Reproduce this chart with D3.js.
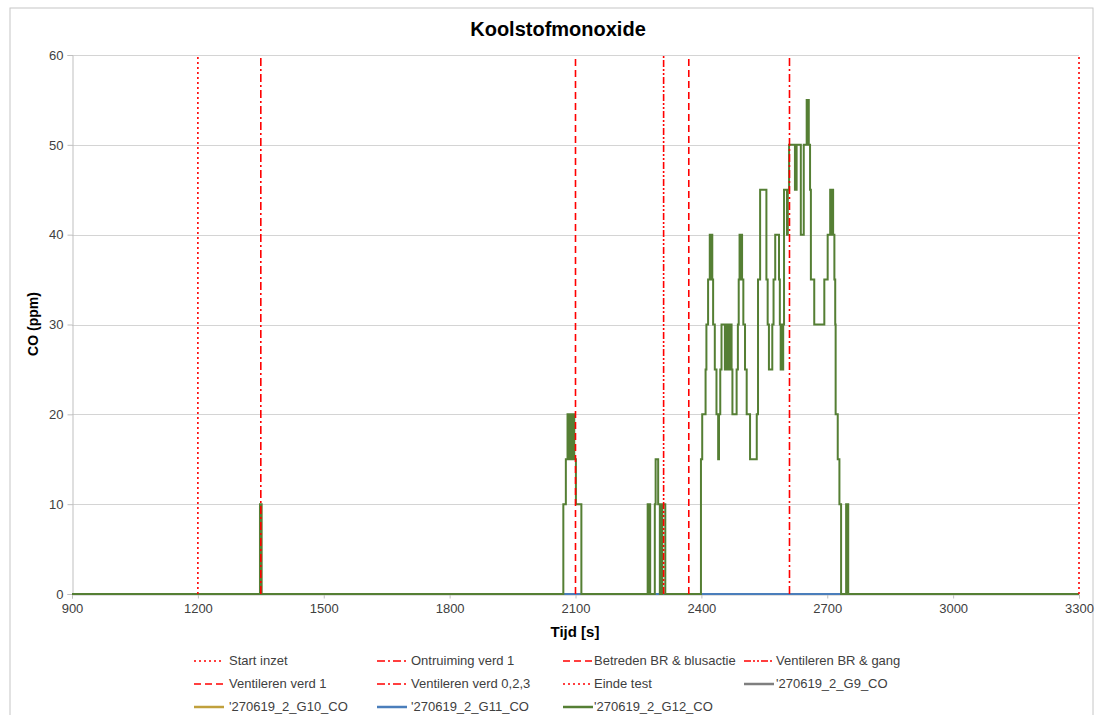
<!DOCTYPE html>
<html>
<head>
<meta charset="utf-8">
<script src="https://cdn.jsdelivr.net/npm/d3@7"></script>
<style>
  html, body { margin: 0; padding: 0; background: #fff; }
  svg { display: block; font-family: "Liberation Sans", Arial, sans-serif; }
</style>
</head>
<body>
<svg id="chart" width="1102" height="715"></svg>
<script>
// ---------- DATA ----------
const chartTitle = "Koolstofmonoxide";
const xTitle = "Tijd [s]";
const yTitle = "CO (ppm)";
const xTicks = [900, 1200, 1500, 1800, 2100, 2400, 2700, 3000, 3300];
const yTicks = [0, 10, 20, 30, 40, 50, 60];

// event markers (vertical red lines)
const markerNames = ["Start inzet", "Ontruiming verd 1", "Betreden BR & blusactie", "Ventileren BR & gang",
                     "Ventileren verd 1", "Ventileren verd 0,2,3", "Einde test"];
const markerTimes = [1200, 1350, 2100, 2310, 2370, 2610, 3300];
const markerKinds = ["dotted", "dashdot", "dashed", "dashdotdot", "dashed", "dashdot", "dotted"];

// sensor series
const seriesNames = ["'270619_2_G9_CO", "'270619_2_G10_CO", "'270619_2_G11_CO", "'270619_2_G12_CO"];
const g9Time = [900, 3300];
const g9Value = [0, 0];
const g10Time = [900, 3300];
const g10Value = [0, 0];
const g11Time = [900, 3300];
const g11Value = [0, 0];
// G12: step readings (time at which each level starts)
const g12Time = [900, 1348, 1352,
  2071, 2077, 2081, 2084, 2085, 2088, 2089, 2092, 2093, 2097, 2101, 2114,
  2272, 2274, 2276, 2278, 2289, 2291, 2297, 2301, 2304, 2306, 2307, 2314,
  2399, 2402, 2410, 2412, 2416, 2420, 2422, 2423, 2426, 2428, 2432, 2436, 2440, 2442, 2445, 2448,
  2456, 2459, 2463, 2465, 2467, 2469, 2472, 2474, 2484, 2487, 2489, 2491, 2492, 2494, 2497, 2500, 2504, 2508,
  2516, 2532, 2535, 2540, 2555, 2558, 2561, 2569, 2572, 2576, 2585, 2587, 2589, 2592, 2593, 2595,
  2597, 2604, 2606, 2609, 2615, 2623, 2624, 2626, 2627, 2637, 2644, 2651, 2653, 2654, 2656, 2659, 2661,
  2669, 2693, 2701, 2707, 2709, 2710, 2712, 2714, 2717, 2719, 2720, 2725, 2729, 2733,
  2745, 2747, 2748, 2750, 3300];
const g12Value = [0, 10, 0,
  10, 15, 20, 15, 20, 15, 20, 15, 20, 15, 10, 0,
  10, 0, 10, 0, 10, 15, 10, 0, 10, 0, 10, 0,
  15, 20, 25, 30, 35, 40, 35, 40, 35, 30, 25, 20, 15, 20, 25, 30,
  25, 30, 25, 30, 25, 30, 25, 20, 25, 30, 35, 40, 35, 40, 35, 30, 25, 20,
  15, 20, 35, 45, 35, 30, 25, 30, 35, 40, 35, 30, 25, 30, 25, 30,
  45, 40, 45, 50, 50, 45, 50, 45, 50, 40, 50, 55, 50, 55, 50, 45, 35,
  30, 35, 40, 45, 40, 45, 45, 40, 35, 30, 20, 15, 10, 0,
  10, 0, 10, 0, 0];

// ---------- STYLES ----------
const markerColor = "#ff0000";
const dashStyles = {
  dotted: "2,3",
  dashdot: "8,3,2,3",
  dashed: "7,4",
  dashdotdot: "7,2,2,2,2,2"
};
const seriesColors = ["#7f7f7f", "#c0a03c", "#4a7ebb", "#557f34"];

// ---------- LAYOUT ----------
const svg = d3.select("#chart");
const plot = { left: 72, right: 1079, top: 55, bottom: 594 };

svg.append("rect").attr("x", 10).attr("y", 8).attr("width", 1083).attr("height", 720)
  .attr("fill", "#fff").attr("stroke", "#c6c6c6").attr("stroke-width", 1);

const x = d3.scaleLinear().domain([900, 3300]).range([plot.left, plot.right]);
const y = d3.scaleLinear().domain([0, 60]).range([plot.bottom, plot.top]);

// gridlines
svg.append("g").selectAll("line").data(yTicks.filter(d => d > 0)).join("line")
  .attr("x1", plot.left).attr("x2", plot.right)
  .attr("y1", d => Math.round(y(d)) + 0.5).attr("y2", d => Math.round(y(d)) + 0.5)
  .attr("stroke", "#d4d4d4").attr("stroke-width", 1);

// y axis
const yAxis = svg.append("g").attr("transform", `translate(${plot.left + 0.5},0)`)
  .call(d3.axisLeft(y).tickValues(yTicks).tickSize(5).tickPadding(4).tickFormat(d3.format("d")));
yAxis.select(".domain").attr("stroke", "#bfbfbf");
yAxis.selectAll(".tick line").attr("stroke", "#bfbfbf");
yAxis.selectAll("text").attr("font-size", 13).attr("fill", "#404040")
  .attr("font-family", "'Liberation Sans', Arial, sans-serif");

// x axis
const xAxis = svg.append("g").attr("transform", `translate(0,${plot.bottom + 0.5})`)
  .call(d3.axisBottom(x).tickValues(xTicks).tickSize(4).tickPadding(5).tickFormat(d3.format("d")));
xAxis.select(".domain").attr("stroke", "#bfbfbf");
xAxis.selectAll(".tick line").attr("stroke", "#bfbfbf");
xAxis.selectAll("text").attr("font-size", 13).attr("fill", "#404040")
  .attr("font-family", "'Liberation Sans', Arial, sans-serif");

// series
const seriesData = [
  d3.zip(g9Time, g9Value),
  d3.zip(g10Time, g10Value),
  d3.zip(g11Time, g11Value),
  d3.zip(g12Time, g12Value)
];
const line = d3.line().x(d => x(d[0])).y(d => y(d[1])).curve(d3.curveStepAfter);
svg.append("g").selectAll("path").data(seriesData).join("path")
  .attr("d", line)
  .attr("fill", "none")
  .attr("stroke", (d, i) => seriesColors[i])
  .attr("stroke-width", 2)
  .attr("stroke-linejoin", "miter");

// markers
svg.append("g").selectAll("line").data(markerTimes).join("line")
  .attr("x1", d => x(d)).attr("x2", d => x(d))
  .attr("y1", y(0)).attr("y2", y(60))
  .attr("stroke", markerColor).attr("stroke-width", 1.6)
  .attr("stroke-dasharray", (d, i) => dashStyles[markerKinds[i]]);

// titles
svg.append("text").attr("x", 558).attr("y", 36).attr("text-anchor", "middle")
  .attr("font-size", 20).attr("font-weight", "bold").attr("fill", "#000").text(chartTitle);
svg.append("text").attr("x", 575).attr("y", 637).attr("text-anchor", "middle")
  .attr("font-size", 15).attr("font-weight", "bold").attr("fill", "#000").text(xTitle);
svg.append("text").attr("transform", "translate(38,324) rotate(-90)").attr("text-anchor", "middle")
  .attr("font-size", 14).attr("font-weight", "bold").attr("fill", "#000").text(yTitle);

// legend
const legendItems = markerNames.map((n, i) => ({ name: n, color: markerColor, dash: dashStyles[markerKinds[i]] }))
  .concat(seriesNames.map((n, i) => ({ name: n, color: seriesColors[i], dash: null })));
const colLineX = [194, 377, 563, 744];
const colTextX = [229, 411, 594, 776];
const rowY = [661, 684, 707];
const lg = svg.append("g").selectAll("g").data(legendItems).join("g")
  .attr("transform", (d, i) => `translate(0,${rowY[Math.floor(i / 4)]})`);
lg.append("line")
  .attr("x1", (d, i) => colLineX[i % 4]).attr("x2", (d, i) => colLineX[i % 4] + 30)
  .attr("y1", 0).attr("y2", 0)
  .attr("stroke", d => d.color).attr("stroke-width", d => d.dash ? 1.6 : 2.5)
  .attr("stroke-dasharray", d => d.dash);
lg.append("text")
  .attr("x", (d, i) => colTextX[i % 4]).attr("y", 4)
  .attr("font-size", 13).attr("fill", "#404040").text(d => d.name);
</script>
</body>
</html>
